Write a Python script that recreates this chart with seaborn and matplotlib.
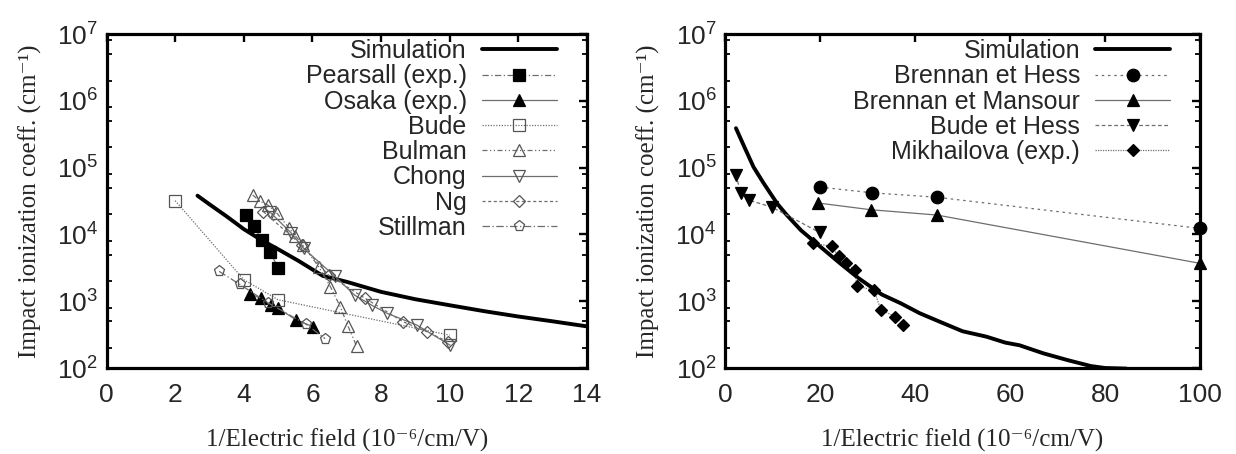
import matplotlib
matplotlib.use('Agg')
import matplotlib.pyplot as plt
import matplotlib.ticker as mticker
import seaborn as sns

# ---- left panel: 1/E (1e-6 cm/V) vs impact ionization coefficient (1/cm)
sim_left_x = [2.65, 3.0, 3.5, 4.0, 4.5, 5.0, 5.6, 6.3, 7.0, 8.0, 9.0,
              10.0, 11.0, 12.0, 13.0, 14.0]
sim_left_y = [38000, 28200, 18600, 12000, 8300, 6000, 4000, 2400, 1950,
              1380, 1070, 870, 710, 590, 500, 420]
pearsall_x = [4.07, 4.31, 4.52, 4.77, 5.01]
pearsall_y = [19500, 13200, 8300, 5400, 3100]
osaka_x = [4.18, 4.49, 4.80, 5.01, 5.52, 6.03]
osaka_y = [1300, 1100, 870, 780, 525, 415]
bude_x = [2.0, 4.0, 5.0, 10.0]
bude_y = [32000, 2100, 1050, 310]
bulman_x = [4.26, 4.46, 4.70, 4.96, 5.33, 5.50, 5.72, 6.18, 6.52, 6.81,
            7.03, 7.29]
bulman_y = [38900, 31600, 27500, 20900, 12300, 9550, 6900, 3300, 1660,
            830, 430, 210]
chong_x = [4.75, 5.38, 5.74, 6.66, 7.23, 7.73, 8.17, 9.04, 10.01]
chong_y = [21900, 10500, 6200, 2350, 1230, 870, 660, 440, 220]
ng_x = [4.57, 5.69, 6.47, 7.54, 8.65, 9.33, 9.96]
ng_y = [21900, 6900, 2450, 1100, 490, 350, 245]
stillman_x = [3.28, 3.89, 4.70, 5.82, 6.37]
stillman_y = [2800, 1780, 950, 450, 275]

# ---- right panel
sim_right_x = [2.3, 4, 6, 8, 11, 13, 16, 20, 24, 28, 33, 37, 41, 45, 50,
               55, 59, 62, 67, 72, 77, 80, 84.5]
sim_right_y = [389000, 209000, 102000, 60300, 28800, 19500, 11500, 6600,
               3800, 2240, 1260, 930, 660, 500, 355, 295, 240, 219, 166,
               132, 107, 100, 98]
brennan_hess_x = [20.0, 30.9, 44.6, 99.9]
brennan_hess_y = [51000, 42000, 36000, 12300]
brennan_mansour_x = [19.6, 30.7, 44.6, 99.9]
brennan_mansour_y = [29500, 23400, 19500, 3700]
bude_hess_x = [2.3, 3.3, 5.1, 9.8, 19.9]
bude_hess_y = [77600, 41700, 32400, 25700, 10700]
mikhailova_x = [18.6, 22.5, 23.9, 25.5, 27.4, 27.7, 31.4, 32.8, 35.8, 37.5]
mikhailova_y = [7400, 6600, 4700, 3700, 2900, 1700, 1450, 740, 590, 440]

GREY = '#6e6e6e'
SANS = ['Liberation Sans', 'DejaVu Sans']
SERIF = ['Liberation Serif', 'DejaVu Serif']

sns.set_theme(style='white')
plt.rcParams['font.family'] = SANS
plt.rcParams['axes.linewidth'] = 2.3


def series(ax, x, y, label, marker, ls, ms, filled=True, lw=0.9):
    sns.lineplot(
        x=x, y=y, ax=ax, sort=False, estimator=None,
        label=label, color=GREY, linestyle=ls, linewidth=lw,
        marker=marker, markersize=ms,
        markerfacecolor='black' if filled else 'none',
        markeredgecolor='black' if filled else '#555555',
        markeredgewidth=0.9, clip_on=False
    )


def simulation(ax, x, y):
    sns.lineplot(
        x=x, y=y, ax=ax, sort=False, estimator=None,
        label='Simulation', color='black', linewidth=2.8
    )


def style_axes(ax, xmax, xstep):
    ax.set_yscale('log')
    ax.set_ylim(1e2, 1e7)
    ax.set_xlim(0, xmax)
    ax.xaxis.set_major_locator(mticker.MultipleLocator(xstep))
    ax.yaxis.set_major_locator(mticker.LogLocator(base=10, numticks=10))
    ax.yaxis.set_minor_locator(mticker.LogLocator(base=10, subs=(2, 5, 8),
                                                  numticks=10))
    ax.yaxis.set_minor_formatter(mticker.NullFormatter())
    ax.yaxis.set_major_formatter(mticker.LogFormatterMathtext())
    ax.tick_params(which='major', direction='in', length=6, width=1.7,
                   top=True, right=True, labelsize=19, color='black')
    ax.tick_params(axis='x', which='major', pad=11)
    ax.tick_params(axis='y', which='major', pad=6)
    ax.tick_params(which='minor', direction='in', length=3.5, width=1.3,
                   left=True, right=True, color='black')
    for s in ax.spines.values():
        s.set_color('black')
    ax.set_xlabel('1/Electric field (10\u207b\u2076/cm/V)', family=SERIF,
                  fontsize=18, labelpad=15)
    ax.set_ylabel('Impact ionization coeff. (cm\u207b\u00b9)', family=SERIF,
                  fontsize=18, labelpad=11)


fig = plt.figure(figsize=(12.36, 4.54), dpi=100)
ax1 = fig.add_axes([0.0862, 0.1894, 0.3887, 0.7357])
ax2 = fig.add_axes([0.5866, 0.1894, 0.3843, 0.7357])

for ax in (ax1, ax2):
    ax.set_yscale('log')

simulation(ax1, sim_left_x, sim_left_y)
series(ax1, pearsall_x, pearsall_y, 'Pearsall (exp.)', 's', (0, (5, 2, 1, 2)), 8.5)
series(ax1, osaka_x, osaka_y, 'Osaka (exp.)', '^', '-', 8.5)
series(ax1, bude_x, bude_y, 'Bude', 's', (0, (1, 1.2)), 9, filled=False)
series(ax1, bulman_x, bulman_y, 'Bulman', '^', (0, (4, 2, 1, 2, 1, 2)), 8,
       filled=False)
series(ax1, chong_x, chong_y, 'Chong', 'v', '-', 8, filled=False)
series(ax1, ng_x, ng_y, 'Ng', 'D', (0, (2.5, 2)), 6, filled=False)
series(ax1, stillman_x, stillman_y, 'Stillman', 'p', (0, (6, 2, 1, 2)), 8,
       filled=False)

simulation(ax2, sim_right_x, sim_right_y)
series(ax2, brennan_hess_x, brennan_hess_y, 'Brennan et Hess', 'o',
       (0, (2, 3)), 9)
series(ax2, brennan_mansour_x, brennan_mansour_y, 'Brennan et Mansour', '^',
       '-', 8.5)
series(ax2, bude_hess_x, bude_hess_y, 'Bude et Hess', 'v', (0, (3, 2)), 8.5)
series(ax2, mikhailova_x, mikhailova_y, 'Mikhailova (exp.)', 'D',
       (0, (1, 1)), 6.5)

for ax in (ax1, ax2):
    style_axes(ax, 14 if ax is ax1 else 100, 2 if ax is ax1 else 20)
    handles, labels = ax.get_legend_handles_labels()
    ax.legend(
        handles, labels, loc='upper right', bbox_to_anchor=(0.937, 0.985),
        frameon=False, markerfirst=False, fontsize=18, numpoints=1,
        handlelength=3.0, handletextpad=0.6, labelspacing=0.05,
        borderpad=0, borderaxespad=0
    )

fig.savefig('out.png', dpi=100, facecolor='white')
plt.close(fig)
